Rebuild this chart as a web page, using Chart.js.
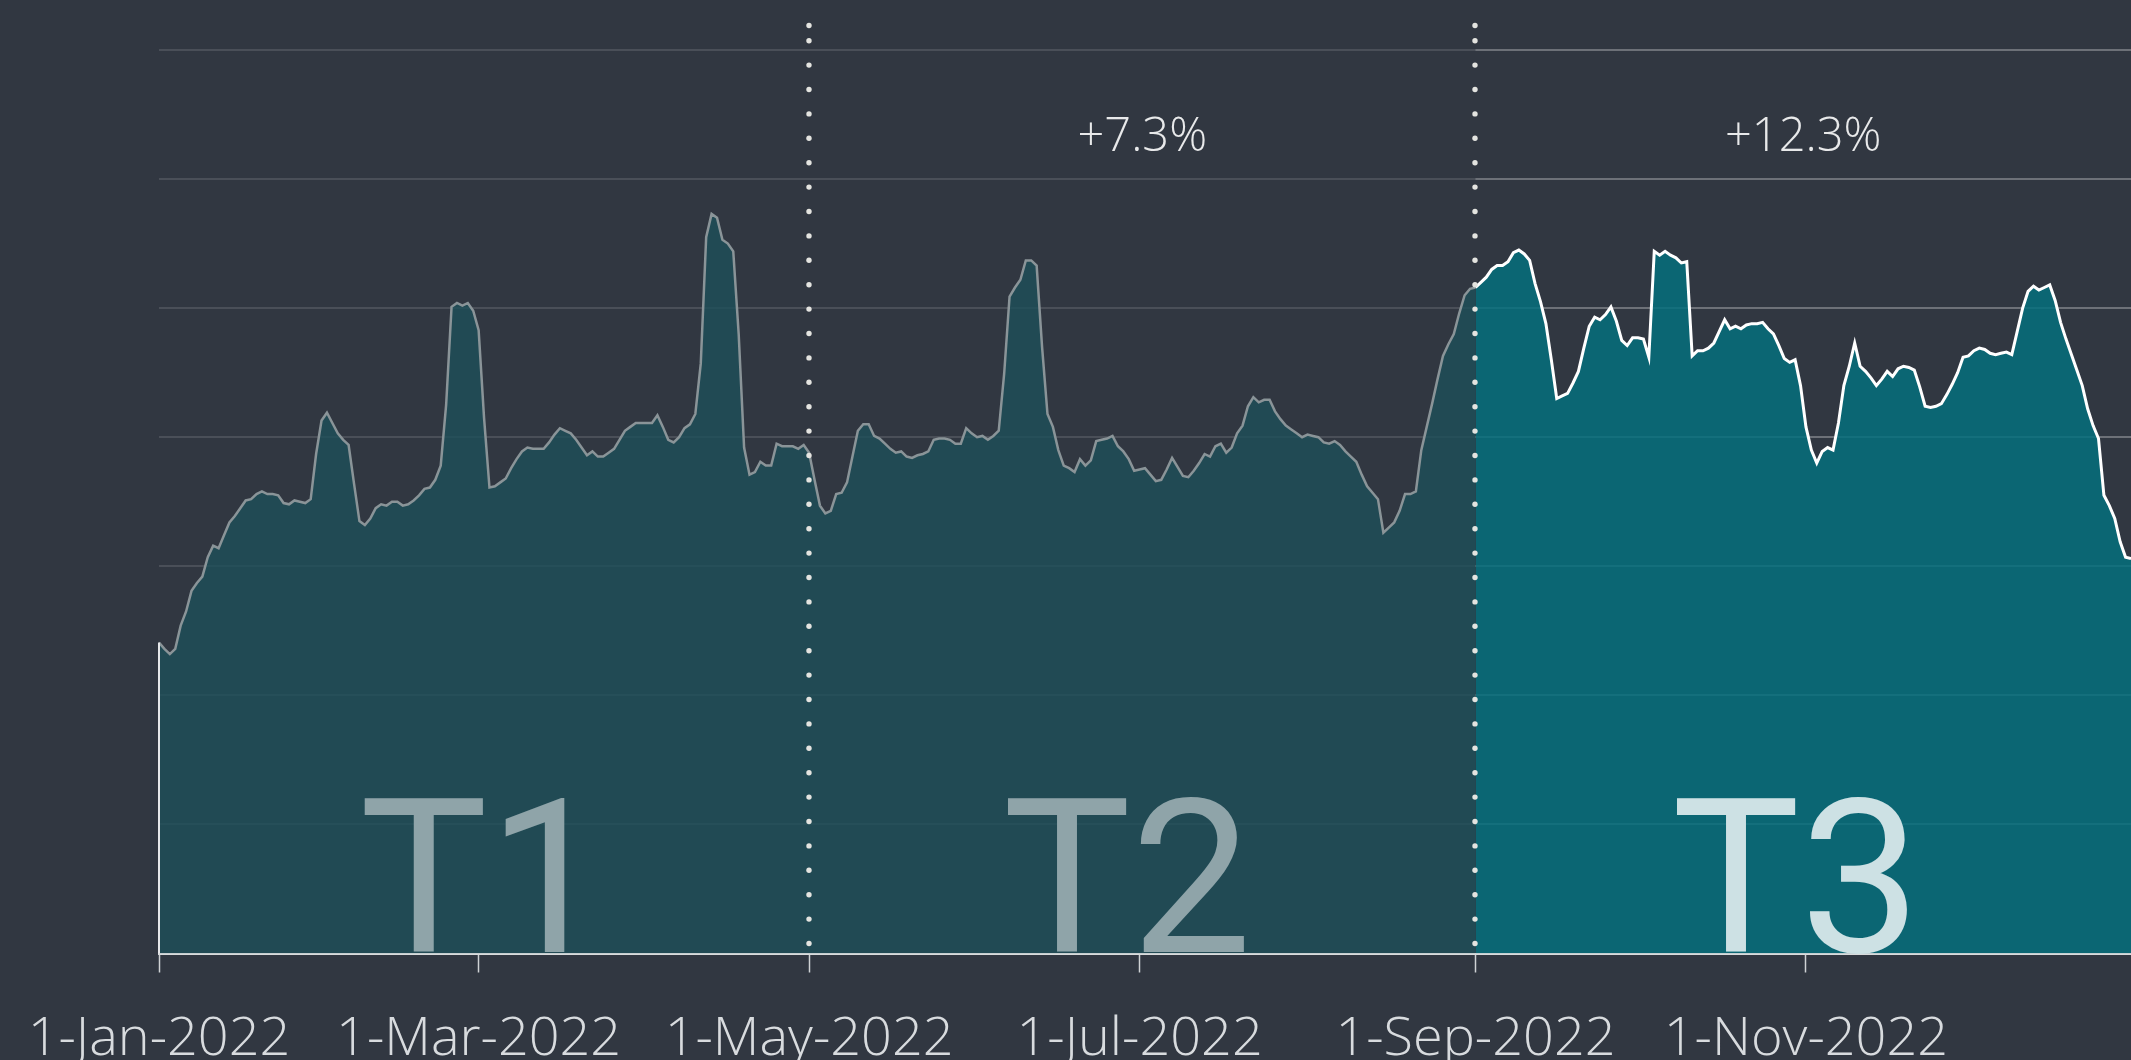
<!DOCTYPE html>
<html>
<head>
<meta charset="utf-8">
<title>T1 / T2 / T3</title>
<script src="https://cdn.jsdelivr.net/npm/chart.js@4.4.1/dist/chart.umd.min.js"></script>
<style>
    html, body { margin: 0; padding: 0; background: #313741; }
    #chart { display: block; }
</style>
</head>
<body>
<canvas id="chart" width="2131" height="1060"></canvas>
<script>
// One value per day, starting 1-Jan-2022 (index = days since 1-Jan)
const dailyValues = [
    24.1, 23.6, 23.2, 23.6, 25.4, 26.5, 28.1, 28.7, 29.2, 30.7,
    31.6, 31.4, 32.4, 33.4, 33.9, 34.5, 35.1, 35.2, 35.6, 35.8,
    35.6, 35.6, 35.5, 34.9, 34.8, 35.1, 35.0, 34.9, 35.2, 38.7,
    41.3, 41.9, 41.1, 40.3, 39.8, 39.4, 36.4, 33.5, 33.2, 33.7,
    34.5, 34.8, 34.7, 35.0, 35.0, 34.7, 34.8, 35.1, 35.5, 36.0,
    36.1, 36.7, 37.8, 42.5, 50.1, 50.4, 50.2, 50.4, 49.8, 48.3,
    41.5, 36.1, 36.2, 36.5, 36.8, 37.6, 38.3, 38.9, 39.2, 39.1,
    39.1, 39.1, 39.6, 40.2, 40.7, 40.5, 40.3, 39.8, 39.2, 38.6,
    38.9, 38.5, 38.5, 38.8, 39.1, 39.8, 40.5, 40.8, 41.1, 41.1,
    41.1, 41.1, 41.7, 40.8, 39.8, 39.6, 40.0, 40.7, 41.0, 41.8,
    45.7, 55.5, 57.3, 57.0, 55.3, 55.0, 54.4, 48.0, 39.2, 37.1,
    37.3, 38.1, 37.8, 37.8, 39.5, 39.3, 39.3, 39.3, 39.1, 39.4,
    38.8, 36.7, 34.7, 34.1, 34.3, 35.6, 35.7, 36.5, 38.5, 40.5,
    41.0, 41.0, 40.1, 39.9, 39.5, 39.1, 38.8, 38.9, 38.5, 38.4,
    38.6, 38.7, 38.9, 39.8, 39.9, 39.9, 39.8, 39.5, 39.5, 40.7,
    40.3, 40.0, 40.1, 39.8, 40.1, 40.5, 44.9, 50.9, 51.6, 52.2,
    53.7, 53.7, 53.3, 47.0, 41.8, 40.8, 39.0, 37.8, 37.6, 37.3,
    38.3, 37.8, 38.2, 39.7, 39.8, 39.9, 40.1, 39.3, 38.9, 38.3,
    37.4, 37.5, 37.6, 37.1, 36.6, 36.7, 37.5, 38.4, 37.7, 37.0,
    36.9, 37.4, 38.0, 38.7, 38.5, 39.3, 39.5, 38.8, 39.2, 40.3,
    40.9, 42.4, 43.1, 42.7, 42.9, 42.9, 42.0, 41.4, 40.9, 40.6,
    40.3, 40.0, 40.2, 40.1, 40.0, 39.6, 39.5, 39.7, 39.4, 38.9,
    38.5, 38.1, 37.1, 36.2, 35.7, 35.2, 32.6, 33.0, 33.4, 34.3,
    35.6, 35.6, 35.8, 39.0, 40.8, 42.6, 44.5, 46.3, 47.2, 48.0,
    49.6, 51.0, 51.5, 51.6, 52.0, 52.4, 53.0, 53.3, 53.3, 53.6,
    54.3, 54.5, 54.2, 53.7, 51.9, 50.5, 48.8, 46.0, 43.0, 43.2,
    43.4, 44.2, 45.1, 46.9, 48.6, 49.3, 49.1, 49.5, 50.1, 49.0,
    47.5, 47.1, 47.7, 47.7, 47.6, 46.2, 54.4, 54.1, 54.4, 54.1,
    53.9, 53.5, 53.6, 46.3, 46.7, 46.7, 46.9, 47.3, 48.2, 49.1,
    48.4, 48.6, 48.4, 48.7, 48.8, 48.8, 48.9, 48.4, 48.0, 47.1,
    46.1, 45.8, 46.0, 44.0, 40.8, 39.0, 38.0, 38.9, 39.2, 39.0,
    41.1, 44.0, 45.5, 47.3, 45.5, 45.1, 44.6, 44.0, 44.5, 45.1,
    44.7, 45.3, 45.5, 45.4, 45.2, 43.9, 42.4, 42.3, 42.4, 42.6,
    43.3, 44.1, 45.0, 46.2, 46.3, 46.7, 46.9, 46.8, 46.5, 46.4,
    46.5, 46.6, 46.4, 48.2, 50.0, 51.3, 51.7, 51.4, 51.6, 51.8,
    50.6, 48.9, 47.6, 46.4, 45.2, 44.0, 42.2, 40.9, 39.9, 35.5,
    34.7, 33.7, 31.9, 30.7, 30.6
];

// Periods (days since 1-Jan)
const periodNames = ['T1', 'T2', 'T3'];
const periodStarts = [0, 120, 243];
const periodEnds = [120, 243, 364];
const periodChanges = ['', '+7.3%', '+12.3%'];

// X axis ticks
const tickDays = [0, 59, 120, 181, 243, 304];
const tickLabels = ['1-Jan-2022', '1-Mar-2022', '1-May-2022', '1-Jul-2022', '1-Sep-2022', '1-Nov-2022'];

const points = dailyValues.map((v, i) => ({ x: i, y: v }));
const earlyPoints = points.filter(p => p.x <= periodStarts[2]);
const latePoints = points.filter(p => p.x >= periodStarts[2]);

// small nudges so the big letters sit where the original has them
const nameNudge = [0, -15, -7];

const periodPlugin = {
    id: 'periods',
    beforeDatasetsDraw(chart) {
        // gridlines are brighter over the last period
        const { ctx, chartArea, scales: { x, y } } = chart;
        const x0 = x.getPixelForValue(periodStarts[2]);
        ctx.save();
        ctx.strokeStyle = 'rgba(255,255,255,0.2)';
        ctx.lineWidth = 2;
        y.ticks.forEach(t => {
            if (t.value === 0) return;
            const py = Math.round(y.getPixelForValue(t.value));
            ctx.beginPath();
            ctx.moveTo(x0, py);
            ctx.lineTo(chartArea.right, py);
            ctx.stroke();
        });
        ctx.restore();
    },
    afterDatasetsDraw(chart) {
        const { ctx, chartArea, scales: { x, y } } = chart;
        ctx.save();

        // left edge of the area
        const xs = x.getPixelForValue(0);
        ctx.strokeStyle = '#e6e8ea';
        ctx.lineWidth = 2;
        ctx.beginPath();
        ctx.moveTo(xs, y.getPixelForValue(dailyValues[0]));
        ctx.lineTo(xs, chartArea.bottom);
        ctx.stroke();

        // big period names
        ctx.textAlign = 'center';
        ctx.textBaseline = 'alphabetic';
        ctx.font = '400 215px Roboto, "Open Sans", sans-serif';
        periodNames.forEach((name, i) => {
            const mid = x.getPixelForValue((periodStarts[i] + periodEnds[i]) / 2) + nameNudge[i];
            ctx.fillStyle = i === 2 ? '#cde1e4' : '#8fa4a9';
            ctx.fillText(name, mid, chartArea.bottom - 2);
        });

        // change labels
        ctx.font = '300 47px "Open Sans", sans-serif';
        ctx.fillStyle = '#e8e9ea';
        ctx.textBaseline = 'middle';
        periodChanges.forEach((txt, i) => {
            if (!txt) return;
            const mid = x.getPixelForValue((periodStarts[i] + periodEnds[i]) / 2);
            ctx.fillText(txt, mid, y.getPixelForValue(63.2));
        });

        // dotted separators
        ctx.fillStyle = '#e4e4e0';
        periodStarts.slice(1).forEach(d => {
            const px = Math.round(x.getPixelForValue(d));
            let py = chartArea.bottom - 10;
            while (py >= chartArea.top - 12) {
                ctx.beginPath();
                ctx.arc(px, py, 2.7, 0, Math.PI * 2);
                ctx.fill();
                py -= 24.4;
            }
            ctx.beginPath();
            ctx.arc(px, chartArea.top - 24.5, 2.7, 0, Math.PI * 2);
            ctx.fill();
        });
        ctx.restore();
    }
};

new Chart(document.getElementById('chart'), {
    type: 'line',
    data: {
        datasets: [
            {
                data: earlyPoints,
                borderColor: '#8a9498',
                borderWidth: 2.5,
                backgroundColor: 'rgba(29,80,90,0.79)',
                fill: 'origin',
                pointRadius: 0,
                tension: 0
            },
            {
                data: latePoints,
                borderColor: '#ffffff',
                borderWidth: 3,
                backgroundColor: 'rgba(4,111,125,0.84)',
                fill: 'origin',
                pointRadius: 0,
                tension: 0
            }
        ]
    },
    options: {
        responsive: false,
        animation: false,
        layout: { padding: { left: 0, top: 50, right: 0, bottom: 0 } },
        plugins: {
            legend: { display: false },
            tooltip: { enabled: false }
        },
        scales: {
            x: {
                type: 'linear',
                min: 0,
                max: 364,
                afterBuildTicks: axis => {
                    axis.ticks = tickDays.map(v => ({ value: v }));
                },
                // chart.js counts the tick padding twice; keep it once,
                // and let the y axis width alone decide the left edge
                afterFit: scale => {
                    scale.height -= scale.options.ticks.padding;
                    scale.paddingLeft = 0;
                    scale.paddingRight = 0;
                },
                ticks: {
                    autoSkip: false,
                    maxRotation: 0,
                    padding: 47,
                    color: '#d8dbde',
                    font: { family: '"Open Sans", sans-serif', size: 54, weight: '300', lineHeight: 0.75 },
                    callback: v => tickLabels[tickDays.indexOf(v)]
                },
                grid: {
                    drawOnChartArea: false,
                    tickLength: 19,
                    tickColor: '#cfd2d4',
                    tickWidth: 1.5
                },
                border: { color: '#d9dbdc', width: 2 }
            },
            y: {
                min: 0,
                max: 70,
                ticks: { display: false, stepSize: 10 },
                grid: { color: 'rgba(255,255,255,0.12)', lineWidth: 2, drawTicks: false },
                border: { display: false },
                afterFit: scale => { scale.width = 159; }
            }
        }
    },
    plugins: [periodPlugin]
});
</script>
</body>
</html>
